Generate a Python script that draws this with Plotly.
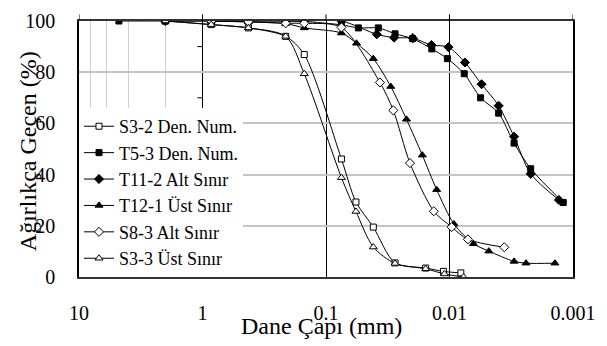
import plotly.graph_objects as go

# ---- data (particle size mm, percent passing) ----
s32_d = [2.0, 0.85, 0.425, 0.212, 0.15, 0.075, 0.0572, 0.0414, 0.0276, 0.0156, 0.0112, 0.0081]
s32_p = [100, 98.6, 97.3, 94.0, 86.9, 46.1, 29.3, 19.5, 5.5, 3.5, 2.2, 1.6]

t53_d = [4.75, 2.0, 0.85, 0.425, 0.212, 0.15, 0.075, 0.0547, 0.0377, 0.0276, 0.0199, 0.0139,
         0.0104, 0.0076, 0.0056, 0.0040, 0.0030, 0.0022, 0.0012]
t53_p = [100, 100, 100, 100, 100, 99.8, 98.5, 97.3, 97.3, 95.0, 93.1, 89.1,
         85.3, 79.4, 70.0, 64.0, 52.3, 42.3, 29.1]

t112_d = [2.0, 0.85, 0.425, 0.212, 0.15, 0.075, 0.0388, 0.0281, 0.0198, 0.0140, 0.0102,
          0.0075, 0.0055, 0.0040, 0.0030, 0.0022, 0.0013]
t112_p = [100, 100, 100, 100, 100, 100, 94.8, 93.5, 93.3, 90.6, 89.8,
          83.8, 75.3, 66.9, 54.8, 40.3, 30.1]

t121_d = [0.85, 0.425, 0.212, 0.15, 0.075, 0.0566, 0.0414, 0.0299, 0.0223, 0.0166, 0.0127,
          0.0092, 0.0064, 0.0048, 0.0030, 0.0024, 0.0014]
t121_p = [100, 99.6, 99.0, 97.3, 95.3, 91.3, 85.3, 74.4, 61.6, 47.6, 34.1,
          20.7, 13.0, 10.1, 6.1, 5.4, 5.4]

s83_d = [0.85, 0.425, 0.212, 0.15, 0.075, 0.0366, 0.0285, 0.0209, 0.0134, 0.0096, 0.0071, 0.0036]
s83_p = [100, 99.7, 99.1, 99.1, 97.5, 76.0, 65.1, 44.5, 25.7, 19.5, 14.7, 11.6]

s33_d = [2.0, 0.85, 0.425, 0.212, 0.15, 0.075, 0.0572, 0.0414, 0.0276, 0.0156, 0.0110, 0.0077]
s33_p = [100, 98.6, 97.3, 94.0, 79.4, 38.8, 25.6, 11.7, 5.3, 3.2, 1.2, 0.0]

x_ticks = [10, 1, 0.1, 0.01, 0.001]
x_labels = ["10", "1", "0.1", "0.01", "0.001"]
y_ticks = [0, 20, 40, 60, 80, 100]
inner_ticks = [10, 30, 50, 70, 90]

series = [
    ("S3-2 Den. Num.", s32_d, s32_p, "square", "white", 6),
    ("T5-3 Den. Num.", t53_d, t53_p, "square", "black", 6),
    ("T11-2 Alt Sınır", t112_d, t112_p, "diamond", "black", 7),
    ("T12-1 Üst Sınır", t121_d, t121_p, "triangle-up", "black", 7),
    ("S8-3 Alt Sınır", s83_d, s83_p, "diamond", "white", 7),
    ("S3-3 Üst Sınır", s33_d, s33_p, "triangle-up", "white", 7),
]

FONT = "'Liberation Serif', 'Times New Roman', Times, 'DejaVu Serif', serif"
fig = go.Figure()
for name, d, p, sym, fill, sz in series:
    fig.add_trace(go.Scatter(
        x=d, y=p, name=name, mode="lines+markers",
        line=dict(color="black", width=1, shape="spline", smoothing=0.8),
        marker=dict(symbol=sym, size=sz, color=fill, line=dict(color="black", width=1)),
    ))

for xv in x_ticks:
    fig.add_shape(type="line", xref="x", yref="paper", x0=xv, x1=xv, y0=1.0, y1=1.026,
                  line=dict(color="black", width=1), layer="above")
for yv in inner_ticks + [0]:
    fig.add_shape(type="line", xref="x", yref="y", x0=1, x1=1.1, y0=yv, y1=yv,
                  line=dict(color="black", width=1), layer="above")

fig.update_layout(
    width=607, height=346,
    margin=dict(l=79, r=34, t=10, b=69),
    paper_bgcolor="white", plot_bgcolor="white",
    font=dict(family=FONT, size=20, color="black"),
    showlegend=True,
    legend=dict(x=0, y=0.66, xanchor="left", yanchor="top", bgcolor="white",
                borderwidth=0, font=dict(family=FONT, size=18), tracegroupgap=0,
                itemwidth=30),
    xaxis=dict(type="log", range=[1, -3], tickvals=x_ticks, ticktext=x_labels,
               showgrid=True, gridcolor="black", gridwidth=1,
               showline=True, linecolor="#333", linewidth=2, mirror=True,
               ticks="", ticklabelstandoff=17,
               minor=dict(showgrid=True, gridcolor="#cfcfcf", gridwidth=1,
                          ticks="inside", ticklen=4, tickcolor="#aaaaaa"),
               zeroline=False),
    yaxis=dict(range=[0, 100], tickvals=y_ticks, showgrid=True, gridcolor="#c4c4c4",
               gridwidth=1.5, showline=True, linecolor="black", linewidth=1.5, mirror=True,
               ticks="", ticklabelstandoff=18, zeroline=False),
    annotations=[
        dict(text="Dane Çapı (mm)", xref="paper", yref="paper", x=0.49, y=-0.19,
             xanchor="center", yanchor="middle", showarrow=False,
             font=dict(family=FONT, size=24)),
        dict(text="Ağırlıkça Geçen (%)", xref="paper", yref="paper", x=-0.104, y=0.49,
             xanchor="center", yanchor="middle", showarrow=False, textangle=-90,
             font=dict(family=FONT, size=24)),
    ],
)

fig.write_html("out.html")
